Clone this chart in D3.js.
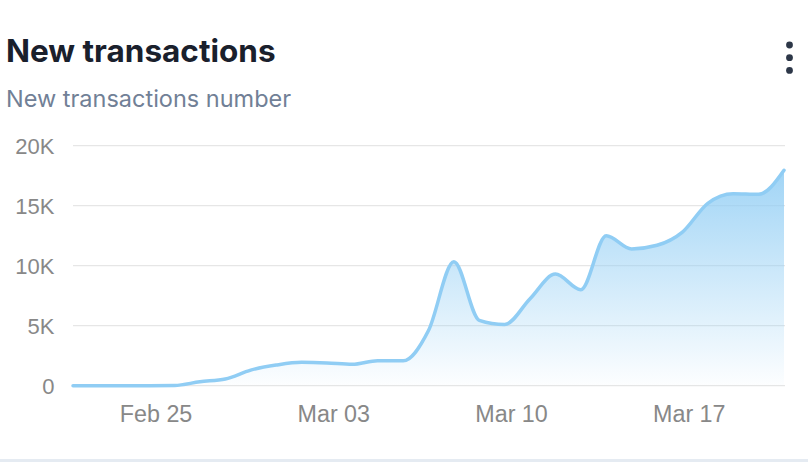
<!DOCTYPE html>
<html>
<head>
<meta charset="utf-8">
<script src="https://cdn.jsdelivr.net/npm/d3@7/dist/d3.min.js"></script>
<style>
  html, body { margin: 0; padding: 0; background: #fff; }
  svg { display: block; }
</style>
</head>
<body>
<svg id="chart" width="808" height="462"></svg>
<script>
// ---- data ----
const dates = [
  "2024-02-22","2024-02-23","2024-02-24","2024-02-25","2024-02-26","2024-02-27","2024-02-28",
  "2024-02-29","2024-03-01","2024-03-02","2024-03-03","2024-03-04","2024-03-05","2024-03-06",
  "2024-03-07","2024-03-08","2024-03-09","2024-03-10","2024-03-11","2024-03-12","2024-03-13",
  "2024-03-14","2024-03-15","2024-03-16","2024-03-17","2024-03-18","2024-03-19","2024-03-20",
  "2024-03-21"
];
const transactions = [
  0, 0, 0, 0, 20, 330, 560, 1300, 1720, 1950, 1900, 1780, 2080, 2070,
  4600, 10330, 5450, 5100, 7250, 9300, 8000, 12500, 11400, 11700, 12800,
  15200, 16000, 15950, 17950
];
const xTickDates = ["2024-02-25T06:00","2024-03-03T06:00","2024-03-10T06:00","2024-03-17T06:00"];
const yTicks = [0, 5000, 10000, 15000, 20000];
const yTickLabels = ["0", "5K", "10K", "15K", "20K"];
const title = "New transactions";
const subtitle = "New transactions number";

// ---- layout ----
const svg = d3.select("#chart");
const W = 808, H = 462;
const plot = { left: 73, right: 785, top: 145.7, bottom: 385.7 };

const parse = d3.timeParse("%Y-%m-%d");
const parseT = d3.timeParse("%Y-%m-%dT%H:%M");
const data = dates.map((d, i) => ({ date: parse(d), value: transactions[i] }));

const x = d3.scaleTime()
  .domain(d3.extent(data, d => d.date))
  .range([plot.left, plot.right - 1]);
const y = d3.scaleLinear()
  .domain([0, 20000])
  .range([plot.bottom, plot.top]);

// title
svg.append("text")
  .attr("x", 6).attr("y", 61.5)
  .attr("font-family", "Inter, 'Noto Sans', sans-serif")
  .attr("font-weight", 700)
  .attr("font-size", 31.5)
  .attr("fill", "#1a202c")
  .text(title);
svg.append("text")
  .attr("x", 6).attr("y", 107.3)
  .attr("font-family", "Inter, 'Noto Sans', sans-serif")
  .attr("font-size", 23.5)
  .attr("fill", "#718096")
  .text(subtitle);

// kebab
svg.append("g").selectAll("circle").data([0, 1, 2]).join("circle")
  .attr("cx", 789.5).attr("cy", d => 45 + d * 12.7).attr("r", 3.4)
  .attr("fill", "#2d3748");

// gridlines
svg.append("g").selectAll("line").data(yTicks).join("line")
  .attr("x1", plot.left).attr("x2", plot.right)
  .attr("y1", d => y(d)).attr("y2", d => y(d))
  .attr("stroke", "#e6e6e6").attr("stroke-width", 1.3);

// y axis labels
const yAxis = d3.axisLeft(y).tickValues(yTicks).tickSize(0).tickPadding(0)
  .tickFormat((d, i) => yTickLabels[i]);
const gy = svg.append("g").attr("transform", `translate(54.5,0)`).call(yAxis);
gy.select(".domain").remove();
gy.selectAll("text")
  .attr("font-family", "'Liberation Sans', Arial, Helvetica, sans-serif")
  .attr("font-size", 22)
  .attr("dy", "0.37em")
  .attr("fill", "#888");

// x axis labels
const xAxis = d3.axisBottom(x).tickValues(xTickDates.map(parseT)).tickSize(0).tickPadding(0)
  .tickFormat(d3.timeFormat("%b %d"));
const gx = svg.append("g").attr("transform", `translate(0,421.5)`).call(xAxis);
gx.select(".domain").remove();
gx.selectAll("text")
  .attr("font-family", "'Liberation Sans', Arial, Helvetica, sans-serif")
  .attr("font-size", 23.3)
  .attr("y", 0)
  .attr("dy", 0)
  .attr("fill", "#888");

// gradient
const defs = svg.append("defs");
const grad = defs.append("linearGradient")
  .attr("id", "areaGrad")
  .attr("gradientUnits", "userSpaceOnUse")
  .attr("x1", 0).attr("x2", 0)
  .attr("y1", y(d3.max(transactions))).attr("y2", y(0));
grad.append("stop").attr("offset", "0%").attr("stop-color", "#90cdf4").attr("stop-opacity", 0.85);
grad.append("stop").attr("offset", "100%").attr("stop-color", "#90cdf4").attr("stop-opacity", 0.02);

const curve = d3.curveMonotoneX;
const area = d3.area().x(d => x(d.date)).y0(y(0)).y1(d => y(d.value)).curve(curve);
const line = d3.line().x(d => x(d.date)).y(d => y(d.value)).curve(curve);

svg.append("path").datum(data).attr("d", area).attr("fill", "url(#areaGrad)");
svg.append("path").datum(data).attr("d", line)
  .attr("fill", "none").attr("stroke", "#90cdf4").attr("stroke-width", 3.5)
  .attr("stroke-linecap", "round").attr("stroke-linejoin", "round");

// bottom border
svg.append("rect").attr("x", 0).attr("y", 459).attr("width", W).attr("height", 3)
  .attr("fill", "#e5ebf2");
</script>
</body>
</html>
